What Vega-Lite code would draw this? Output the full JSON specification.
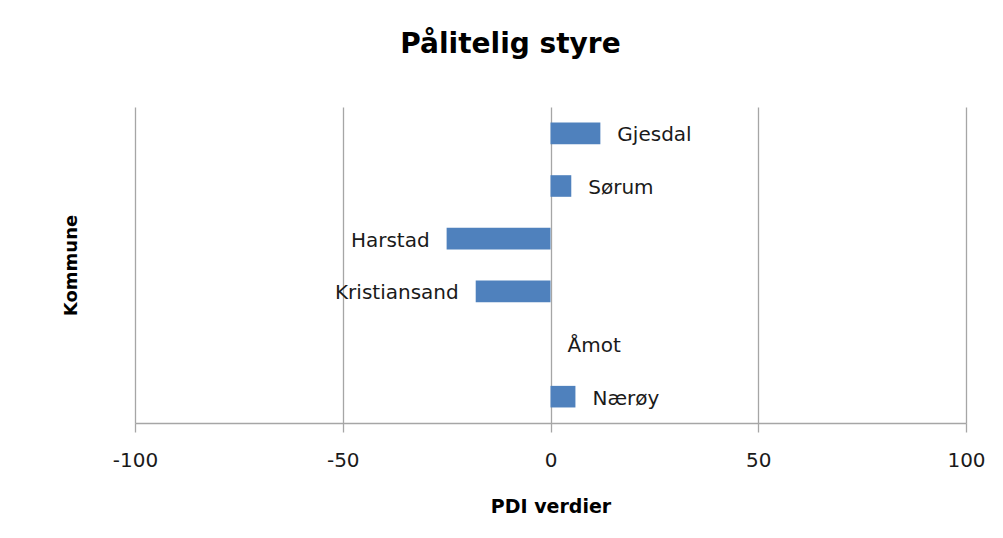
{
  "$schema": "https://vega.github.io/schema/vega-lite/v6.json",
  "width": 831,
  "height": 316,
  "autosize": {"type": "none"},
  "padding": {"left": 135, "top": 107, "right": 37, "bottom": 115},
  "background": "white",
  "config": {"view": {"stroke": null}},
  "title": {
    "text": "Pålitelig styre",
    "font": "DejaVu Sans",
    "fontSize": 28,
    "fontWeight": "bold",
    "color": "#000000",
    "anchor": "middle",
    "frame": "group",
    "baseline": "alphabetic",
    "offset": 54,
    "dx": -40,
    "dy": 28
  },
  "data": {
    "values": [
      {"Kommune": "Gjesdal", "PDI": 12},
      {"Kommune": "Sørum", "PDI": 5},
      {"Kommune": "Harstad", "PDI": -25},
      {"Kommune": "Kristiansand", "PDI": -18},
      {"Kommune": "Åmot", "PDI": 0},
      {"Kommune": "Nærøy", "PDI": 6}
    ]
  },
  "encoding": {
    "y": {
      "field": "Kommune",
      "type": "nominal",
      "sort": null,
      "scale": {"paddingInner": 0.59, "paddingOuter": 0.295},
      "axis": {
        "title": "Kommune",
        "labels": false,
        "ticks": false,
        "domain": false,
        "grid": false,
        "titleFont": "DejaVu Sans",
        "titleFontSize": 18,
        "titleFontWeight": "bold",
        "titleColor": "#000000",
        "titleAngle": -90,
        "titleX": -64,
        "titleY": 158,
        "titleBaseline": "middle",
        "titleAlign": "center"
      }
    }
  },
  "layer": [
    {
      "mark": {"type": "bar", "color": "#4F81BD"},
      "encoding": {
        "x": {
          "field": "PDI",
          "type": "quantitative",
          "scale": {"domain": [-100, 100], "nice": false, "zero": false},
          "axis": {
            "values": [-100, -50, 0, 50, 100],
            "labelExpr": "'' + datum.value",
            "title": "PDI verdier",
            "grid": true,
            "gridColor": "#A6A6A6",
            "gridWidth": 1.3,
            "domainColor": "#A6A6A6",
            "domainWidth": 1.5,
            "tickColor": "#A6A6A6",
            "tickSize": 9,
            "tickWidth": 1.3,
            "labelFont": "DejaVu Sans",
            "labelFontSize": 20,
            "labelColor": "#1a1a1a",
            "labelPadding": 18,
            "labelFlush": false,
            "titleFont": "DejaVu Sans",
            "titleFontSize": 19,
            "titleFontWeight": "bold",
            "titleColor": "#000000",
            "titleBaseline": "alphabetic",
            "titleY": 89
          }
        }
      }
    },
    {
      "transform": [{"filter": "datum.PDI >= 0"}],
      "mark": {"type": "text", "align": "left", "baseline": "middle", "dx": 17, "dy": 2, "font": "DejaVu Sans", "fontSize": 20, "color": "#1a1a1a"},
      "encoding": {
        "x": {"field": "PDI", "type": "quantitative"},
        "text": {"field": "Kommune"}
      }
    },
    {
      "transform": [{"filter": "datum.PDI < 0"}],
      "mark": {"type": "text", "align": "right", "baseline": "middle", "dx": -17, "dy": 2, "font": "DejaVu Sans", "fontSize": 20, "color": "#1a1a1a"},
      "encoding": {
        "x": {"field": "PDI", "type": "quantitative"},
        "text": {"field": "Kommune"}
      }
    }
  ]
}
